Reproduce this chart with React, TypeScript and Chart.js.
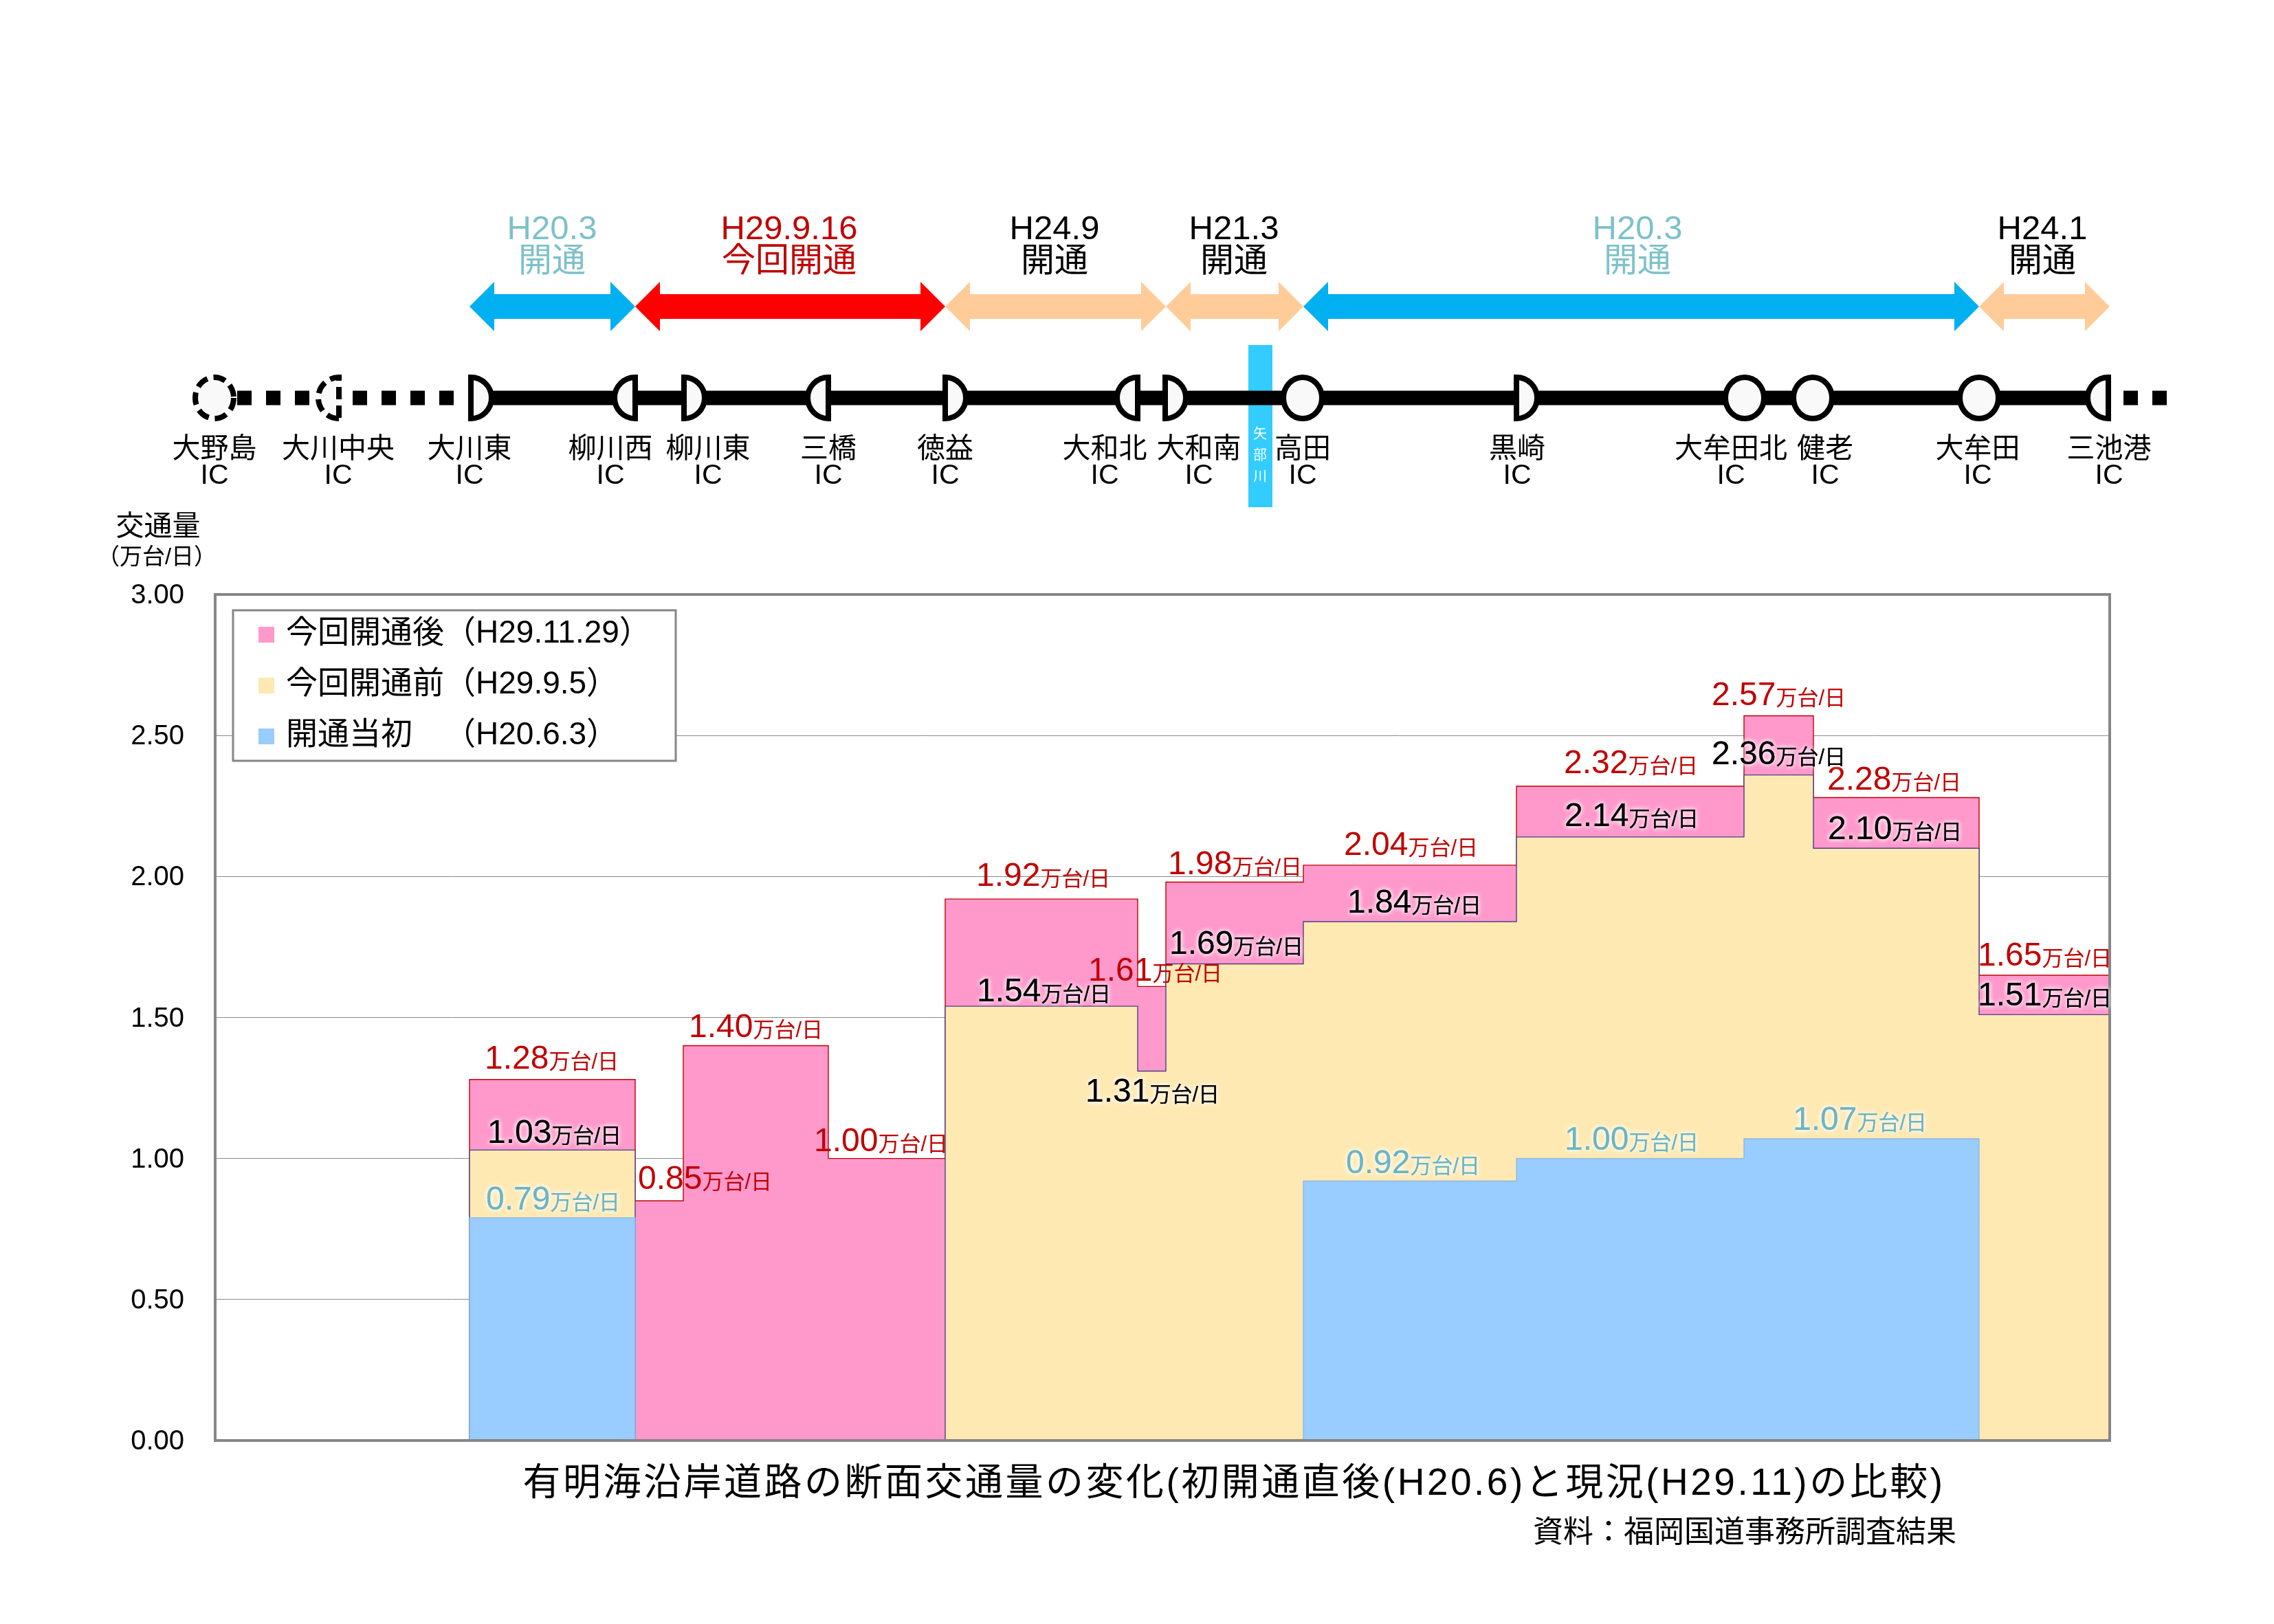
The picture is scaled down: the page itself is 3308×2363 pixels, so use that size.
import React, { useEffect, useRef } from "react";
import { Chart, registerables } from "chart.js";

Chart.register(...registerables);

const FONT = '"Liberation Sans", "Noto Sans CJK JP", sans-serif';

// Road position of each section boundary (arbitrary distance units along the road)
const sectionEdges = [37.0, 61.1, 68.1, 89.2, 106.2, 134.2, 138.3, 158.3, 189.3, 222.4, 232.5, 256.6, 275.6];
const afterOpening = [1.28, 0.85, 1.4, 1.0, 1.92, 1.61, 1.98, 2.04, 2.32, 2.57, 2.28, 1.65];
const beforeOpening = [1.03, null, null, null, 1.54, 1.31, 1.69, 1.84, 2.14, 2.36, 2.1, 1.51];
const initialOpening = [0.79, null, null, null, null, null, null, 0.92, 1.0, 1.07, 1.07, null];

const yTicks = [0, 0.5, 1, 1.5, 2, 2.5, 3];
const seriesNames = ["今回開通後（H29.11.29）", "今回開通前（H29.9.5）", "開通当初\u3000\u200B（H20.6.3）"];
const unitText = "万台/日";

const icNames = ["大野島", "大川中央", "大川東", "柳川西", "柳川東", "三橋", "徳益", "大和北", "大和南", "高田", "黒崎", "大牟田北", "健老", "大牟田", "三池港"];
const icRoadPositions = [-0.1, 18.3, 36.9, 61.4, 67.9, 89.5, 105.9, 134.5, 137.9, 158.2, 189.0, 222.5, 232.4, 256.6, 275.7];
const icShapes = ["dashedFull", "dashedLeft", "right", "left", "right", "left", "right", "left", "right", "full", "right", "full", "full", "full", "left"];
const icLabelCenters = [312, 492, 683, 888, 1030, 1205, 1375, 1607, 1744, 1895, 2207, 2518, 2655, 2877, 3068];

const openingDates = ["H20.3", "H29.9.16", "H24.9", "H21.3", "H20.3", "H24.1"];
const openingWords = ["開通", "今回開通", "開通", "開通", "開通", "開通"];
const openingFrom = [0, 1, 4, 6, 7, 11];
const openingTo = [1, 4, 6, 7, 11, 12];
const openingArrowColors = ["#00B0F0", "#FF0000", "#FFCC99", "#FFCC99", "#00B0F0", "#FFCC99"];
const openingTextColors = ["#7DC1C9", "#C00000", "#000000", "#000000", "#7DC1C9", "#000000"];
const openingTextCenters = [803, 1148, 1534, 1795, 2382, 2971];

// Label anchors: [left, vertical centre] in page pixels
const afterLabelAt = [[705, 1538], [928, 1713], [1002, 1492], [1184, 1658], [1420, 1272], [1583, 1410], [1699, 1255], [1955, 1227], [2275, 1108], [2490, 1009], [2658, 1132], [2877, 1388]];
const beforeLabelAt = [[709, 1646], null, null, null, [1421, 1440], [1579, 1586], [1701, 1371], [1960, 1311], [2276, 1185], [2490, 1095], [2659, 1204], [2877, 1446]];
const initialLabels = [
  { v: 0.79, at: [707, 1743] },
  { v: 0.92, at: [1958, 1690] },
  { v: 1.0, at: [2276, 1656] },
  { v: 1.07, at: [2608, 1627] },
];

function steps(values: (number | null)[]) {
  const pts: { x: number; y: number | null }[] = [];
  values.forEach((v, i) => {
    if (v === null) return;
    const prev = i > 0 ? values[i - 1] : null;
    const next = i < values.length - 1 ? values[i + 1] : null;
    if (prev === null) pts.push({ x: sectionEdges[i], y: 0 });
    pts.push({ x: sectionEdges[i], y: v });
    pts.push({ x: sectionEdges[i + 1], y: v });
    if (next === null) {
      pts.push({ x: sectionEdges[i + 1], y: 0 });
      pts.push({ x: sectionEdges[i + 1], y: null });
    }
  });
  return pts;
}

function valueLabel(ctx: CanvasRenderingContext2D, v: number, x: number, cy: number, color: string, glow: boolean) {
  const base = cy + 17;
  const num = v.toFixed(2);
  ctx.save();
  ctx.textAlign = "left";
  ctx.textBaseline = "alphabetic";
  ctx.fillStyle = color;
  ctx.font = `48px ${FONT}`;
  const w = ctx.measureText(num).width;
  const paint = () => {
    ctx.font = `48px ${FONT}`;
    ctx.fillText(num, x, base);
    ctx.font = `31px ${FONT}`;
    ctx.fillText(unitText, x + w, base);
  };
  if (glow) {
    ctx.shadowColor = "#FFFFFF";
    ctx.shadowBlur = 7;
    paint();
  }
  paint();
  ctx.restore();
}

const schematicPlugin = {
  id: "schematic",
  afterDatasetsDraw(chart: any) {
    const ctx: CanvasRenderingContext2D = chart.ctx;
    const xs = chart.scales.x;
    const { left, right, top, bottom } = chart.chartArea;
    const px = (u: number) => xs.getPixelForValue(u);

    // plot frame
    ctx.save();
    ctx.strokeStyle = "#868686";
    ctx.lineWidth = 4;
    ctx.strokeRect(left, top, right - left, bottom - top);
    ctx.restore();

    // legend
    ctx.save();
    ctx.fillStyle = "#FFFFFF";
    ctx.fillRect(339, 888, 644, 219);
    ctx.strokeStyle = "#868686";
    ctx.lineWidth = 3;
    ctx.strokeRect(339, 888, 644, 219);
    const rowY = [922, 996, 1070];
    chart.data.datasets.forEach((d: any, i: number) => {
      ctx.fillStyle = d.backgroundColor;
      ctx.fillRect(376, rowY[i] - 10, 23, 23);
      ctx.fillStyle = "#000";
      ctx.font = `46px ${FONT}`;
      ctx.textAlign = "left";
      ctx.textBaseline = "middle";
      ctx.fillText(d.label, 416, rowY[i]);
    });
    ctx.restore();

    // value labels
    afterOpening.forEach((v, i) => valueLabel(ctx, v, afterLabelAt[i][0], afterLabelAt[i][1], "#C00000", false));
    beforeOpening.forEach((v, i) => {
      const at = beforeLabelAt[i];
      if (v !== null && at) valueLabel(ctx, v, at[0], at[1], "#000000", true);
    });
    initialLabels.forEach((l) => valueLabel(ctx, l.v, l.at[0], l.at[1], "#6CB5C2", true));

    // opening arrows
    openingDates.forEach((date, i) => {
      const a = px(sectionEdges[openingFrom[i]]);
      const b = px(sectionEdges[openingTo[i]]);
      const y = 446;
      ctx.fillStyle = openingArrowColors[i];
      ctx.beginPath();
      ctx.moveTo(a, y);
      ctx.lineTo(a + 36, y - 36);
      ctx.lineTo(a + 36, y - 18);
      ctx.lineTo(b - 36, y - 18);
      ctx.lineTo(b - 36, y - 36);
      ctx.lineTo(b, y);
      ctx.lineTo(b - 36, y + 36);
      ctx.lineTo(b - 36, y + 18);
      ctx.lineTo(a + 36, y + 18);
      ctx.lineTo(a + 36, y + 36);
      ctx.closePath();
      ctx.fill();
      ctx.fillStyle = openingTextColors[i];
      ctx.font = `49px ${FONT}`;
      ctx.textAlign = "center";
      ctx.textBaseline = "middle";
      ctx.fillText(date, openingTextCenters[i], 334);
      ctx.fillText(openingWords[i], openingTextCenters[i], 381);
    });

    // river
    ctx.fillStyle = "#33CCFF";
    ctx.fillRect(1816, 502, 35, 236);
    ctx.fillStyle = "#FFFFFF";
    ctx.font = `20px ${FONT}`;
    ctx.textAlign = "center";
    ctx.textBaseline = "middle";
    ["矢", "部", "川"].forEach((c, i) => ctx.fillText(c, 1833, 632 + i * 31));

    // road
    const roadY = 579;
    ctx.strokeStyle = "#000";
    ctx.lineWidth = 21;
    ctx.beginPath();
    ctx.moveTo(px(sectionEdges[0]), roadY);
    ctx.lineTo(px(sectionEdges[sectionEdges.length - 1]), roadY);
    ctx.stroke();
    ctx.save();
    ctx.setLineDash([21, 21]);
    ctx.beginPath();
    ctx.moveTo(345, roadY);
    ctx.lineTo(660, roadY);
    ctx.stroke();
    ctx.beginPath();
    ctx.moveTo(3089, roadY);
    ctx.lineTo(3152, roadY);
    ctx.stroke();
    ctx.restore();

    // interchanges
    icNames.forEach((name, i) => {
      const shape = icShapes[i];
      const x = px(icRoadPositions[i]);
      ctx.save();
      ctx.lineWidth = 8;
      ctx.strokeStyle = "#000";
      ctx.fillStyle = "#F9F9F9";
      if (shape.startsWith("dashed")) ctx.setLineDash([18, 9]);
      ctx.beginPath();
      if (shape.endsWith("ull")) {
        ctx.ellipse(x, roadY, 28, 30, 0, 0, Math.PI * 2);
        ctx.closePath();
      } else if (shape === "right") {
        ctx.ellipse(x + 3, roadY, 30, 30, 0, -Math.PI / 2, Math.PI / 2);
        ctx.closePath();
      } else if (shape === "left" || shape === "dashedLeft") {
        ctx.ellipse(x - 3, roadY, 30, 30, 0, Math.PI / 2, (Math.PI * 3) / 2);
        ctx.closePath();
      }
      ctx.fill();
      ctx.stroke();
      ctx.restore();

      ctx.fillStyle = "#000";
      ctx.font = `41px ${FONT}`;
      ctx.textAlign = "center";
      ctx.textBaseline = "middle";
      ctx.fillText(name, icLabelCenters[i], 655);
      ctx.fillText("IC", icLabelCenters[i], 693);
    });

    // axis caption
    ctx.fillStyle = "#000";
    ctx.textAlign = "center";
    ctx.textBaseline = "middle";
    ctx.font = `41px ${FONT}`;
    ctx.fillText("交通量", 230, 768);
    ctx.font = `33px ${FONT}`;
    ctx.fillText("（万台/日）", 228, 812);

    // footer
    ctx.save();
    (ctx as any).letterSpacing = "3.5px";
    ctx.font = `55px ${FONT}`;
    ctx.fillText("有明海沿岸道路の断面交通量の変化(初開通直後(H20.6)と現況(H29.11)の比較)", 1795, 2160);
    ctx.restore();
    ctx.font = `44px ${FONT}`;
    ctx.textAlign = "left";
    ctx.fillText("資料：福岡国道事務所調査結果", 2230, 2232);
  },
};

export default function App() {
  const ref = useRef<HTMLCanvasElement | null>(null);
  useEffect(() => {
    if (!ref.current) return;
    const chart = new Chart(ref.current, {
      type: "line",
      data: {
        datasets: [
          { label: seriesNames[0], data: steps(afterOpening), order: 2, backgroundColor: "#FF99CC", borderColor: "#C00000", borderWidth: 1.4, fill: "origin", pointRadius: 0, tension: 0, spanGaps: false },
          { label: seriesNames[1], data: steps(beforeOpening), order: 1, backgroundColor: "#FFE9B3", borderColor: "#4A3F86", borderWidth: 1.4, fill: "origin", pointRadius: 0, tension: 0, spanGaps: false },
          { label: seriesNames[2], data: steps(initialOpening), order: 0, backgroundColor: "#99CCFF", borderColor: "#8FB8DF", borderWidth: 1.4, fill: "origin", pointRadius: 0, tension: 0, spanGaps: false },
        ],
      },
      options: {
        responsive: false,
        animation: false,
        devicePixelRatio: 1,
        layout: { padding: { left: 0, top: 865, right: 239, bottom: 267 } },
        plugins: { legend: { display: false }, title: { display: false }, tooltip: { enabled: false } },
        scales: {
          x: { type: "linear", min: 0, max: 275.6, display: false },
          y: {
            min: yTicks[0],
            max: yTicks[yTicks.length - 1],
            afterFit(scale: any) { scale.width = 313; },
            afterBuildTicks(scale: any) { scale.ticks = yTicks.map((value) => ({ value })); },
            border: { display: false },
            grid: { color: "#8A8A8A", lineWidth: 1, drawTicks: false },
            ticks: {
              padding: 45,
              labelOffset: 2,
              color: "#000",
              font: { size: 40, family: FONT },
              callback: (v: any) => Number(v).toFixed(2),
            },
          },
        },
      },
      plugins: [schematicPlugin],
    } as any);
    return () => chart.destroy();
  }, []);
  return <canvas ref={ref} width={3308} height={2363} style={{ position: "absolute", left: 0, top: 0, display: "block" }} />;
}
